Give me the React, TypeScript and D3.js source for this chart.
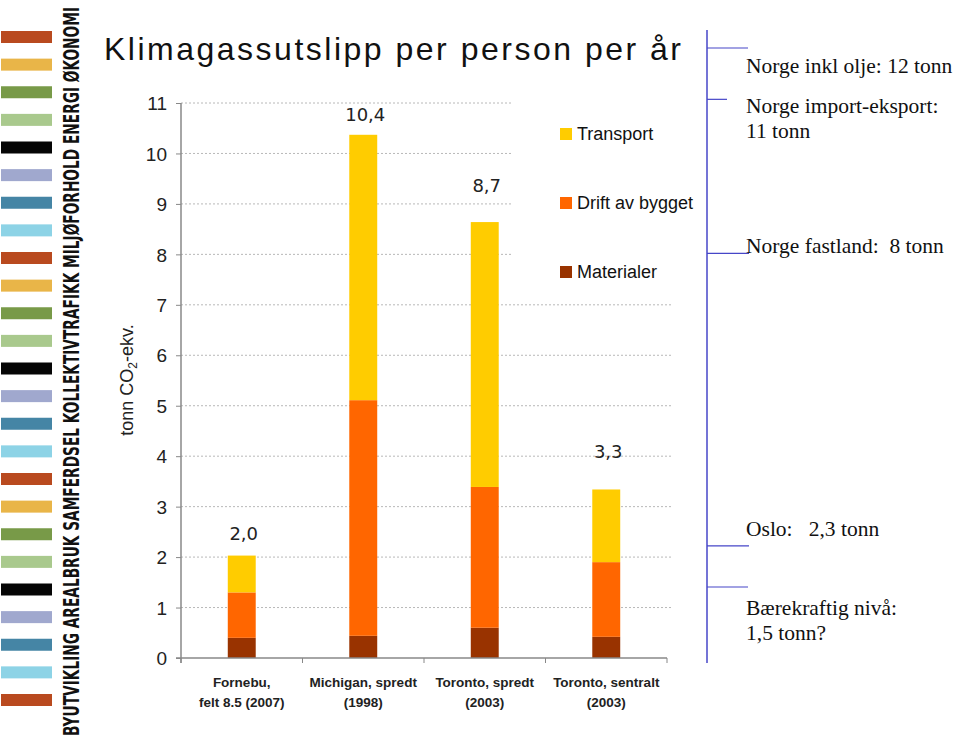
import { useEffect, useRef } from "react";
import * as d3 from "d3";

// data (tonn CO2-ekv. per person)
const categories = ["fornebu", "michigan", "torontoSpredt", "torontoSentralt"];
const categoryLines = [
  ["Fornebu,", "felt 8.5 (2007)"],
  ["Michigan, spredt", "(1998)"],
  ["Toronto, spredt", "(2003)"],
  ["Toronto, sentralt", "(2003)"],
];
const materialer = [0.4, 0.44, 0.6, 0.42];
const drift = [0.9, 4.67, 2.79, 1.48];
const transport = [0.73, 5.26, 5.25, 1.44];
const totalLabels = ["2,0", "10,4", "8,7", "3,3"];
const labelLevels = [2.34, 10.64, 9.24, 3.96];
const yTicks = [0, 1, 2, 3, 4, 5, 6, 7, 8, 9, 10, 11];

const seriesKeys = ["Materialer", "Drift av bygget", "Transport"];
const seriesColors = ["#993300", "#FF6600", "#FFCC00"];
const legendOrder = ["Transport", "Drift av bygget", "Materialer"];

// right-hand reference levels
const refLevels = [12, 11, 8, 2.3, 1.5];
const refTexts = [
  ["Norge inkl olje: 12 tonn"],
  ["Norge import-eksport:", "11 tonn"],
  ["Norge fastland:  8 tonn"],
  ["Oslo:   2,3 tonn"],
  ["Bærekraftig nivå:", "1,5 tonn?"],
];
const refTickLen = [41, 20, 42, 42, 41];
const refTextDy = [25, 14, 0, -10, 28];

const stripeColors = ["#B94A1F", "#E9B548", "#789A48", "#A9C98D", "#050505", "#A0A8CE", "#4585A5", "#8DD3E6"];
const sideText = "BYUTVIKLING AREALBRUK SAMFERDSEL KOLLEKTIVTRAFIKK MILJØFORHOLD ENERGI ØKONOMI";

const W = 960, H = 740;
const plot = { left: 181, right: 667, top: 103, bottom: 658 };

export default function App() {
  const ref = useRef<SVGSVGElement>(null);

  useEffect(() => {
    document.body.style.margin = "0";
    const svg = d3.select(ref.current);
    svg.selectAll("*").remove();

    svg.append("rect").attr("width", W).attr("height", H).attr("fill", "#fff");

    // left decorative stripes
    const stripeY = d3.scaleLinear().domain([0, 24]).range([37, 700]);
    svg.append("g").selectAll("rect")
      .data(d3.range(25))
      .join("rect")
      .attr("x", 1)
      .attr("y", (i) => stripeY(i) - 6)
      .attr("width", 51)
      .attr("height", 12)
      .attr("fill", (i) => stripeColors[i % stripeColors.length]);

    svg.append("text")
      .attr("transform", "translate(79,736) rotate(-90)")
      .attr("font-family", "'DejaVu Sans Condensed', 'DejaVu Sans'")
      .attr("font-weight", "bold")
      .attr("font-size", 21)
      .attr("textLength", 729)
      .attr("lengthAdjust", "spacingAndGlyphs")
      .attr("fill", "#111")
      .text(sideText);

    // title
    svg.append("text")
      .attr("x", 104).attr("y", 60)
      .attr("font-family", "'Liberation Sans', Arial, sans-serif")
      .attr("font-size", 32)
      .attr("letter-spacing", 2.5)
      .attr("fill", "#111")
      .text("Klimagassutslipp per person per år");

    const x = d3.scaleBand<string>()
      .domain(categories)
      .range([plot.left, plot.right])
      .paddingInner(0.77)
      .paddingOuter(0.385);
    const y = d3.scaleLinear().domain([0, 11]).range([plot.bottom, plot.top]);

    // gridlines
    svg.append("g").selectAll("line")
      .data(yTicks.filter((t) => t > 0))
      .join("line")
      .attr("x1", plot.left).attr("x2", plot.right + 6)
      .attr("y1", (d) => y(d)).attr("y2", (d) => y(d))
      .attr("stroke", "#B8B8B8")
      .attr("stroke-dasharray", "2,2");

    // legend background covers upper gridlines
    svg.append("rect")
      .attr("x", 511).attr("y", 95).attr("width", 195).attr("height", 197)
      .attr("fill", "#fff");

    // stacked bars
    const table = categories.map((c, i) => ({
      cat: c,
      "Materialer": materialer[i],
      "Drift av bygget": drift[i],
      "Transport": transport[i],
    }));
    const stacked = d3.stack<any>().keys(seriesKeys)(table);
    svg.append("g").selectAll("g")
      .data(stacked)
      .join("g")
      .attr("fill", (_, i) => seriesColors[i])
      .selectAll("rect")
      .data((s) => s)
      .join("rect")
      .attr("x", (d) => x(d.data.cat)!)
      .attr("width", x.bandwidth())
      .attr("y", (d) => y(d[1]))
      .attr("height", (d) => y(d[0]) - y(d[1]));

    // total labels
    svg.append("g").selectAll("text")
      .data(categories)
      .join("text")
      .attr("x", (c) => x(c)! + x.bandwidth() / 2 + 2)
      .attr("y", (_, i) => y(labelLevels[i]))
      .attr("text-anchor", "middle")
      .attr("font-family", "Verdana, 'DejaVu Sans', sans-serif")
      .attr("font-size", 18)
      .attr("fill", "#222")
      .text((_, i) => totalLabels[i]);

    // y axis
    const yAxis = svg.append("g")
      .attr("transform", `translate(${plot.left},0)`)
      .call(d3.axisLeft(y).tickValues(yTicks).tickSize(5).tickPadding(9).tickFormat(d3.format("d")));
    yAxis.select(".domain").remove();
    yAxis.selectAll(".tick line").attr("stroke", "#888");
    yAxis.selectAll(".tick text")
      .attr("font-family", "'Liberation Sans', Arial, sans-serif")
      .attr("font-size", 19)
      .attr("fill", "#222")
      .attr("dy", "0.35em");
    svg.append("line")
      .attr("x1", plot.left).attr("x2", plot.left)
      .attr("y1", plot.top).attr("y2", plot.bottom + 5)
      .attr("stroke", "#888").attr("stroke-width", 1.5);

    // x axis with boundary ticks
    svg.append("line")
      .attr("x1", plot.left - 5).attr("x2", plot.right)
      .attr("y1", plot.bottom).attr("y2", plot.bottom)
      .attr("stroke", "#888").attr("stroke-width", 1.5);
    svg.append("g").selectAll("line")
      .data(d3.range(categories.length + 1))
      .join("line")
      .attr("x1", (i) => plot.left + i * x.step())
      .attr("x2", (i) => plot.left + i * x.step())
      .attr("y1", plot.bottom).attr("y2", plot.bottom + 5)
      .attr("stroke", "#888");

    const xl = svg.append("g").selectAll("text")
      .data(categories)
      .join("text")
      .attr("x", (c) => x(c)! + x.bandwidth() / 2)
      .attr("y", plot.bottom + 29)
      .attr("text-anchor", "middle")
      .attr("font-family", "'Liberation Sans', Arial, sans-serif")
      .attr("font-size", 13.5)
      .attr("font-weight", "bold")
      .attr("fill", "#222");
    xl.selectAll("tspan")
      .data((_, i) => categoryLines[i])
      .join("tspan")
      .attr("x", function () { return (this.parentNode as SVGTextElement).getAttribute("x"); })
      .attr("dy", (_, j) => (j === 0 ? 0 : 20))
      .text((d) => d);

    // y label
    const yl = svg.append("text")
      .attr("transform", "translate(133,380) rotate(-90)")
      .attr("text-anchor", "middle")
      .attr("font-family", "'Liberation Sans', Arial, sans-serif")
      .attr("font-size", 18)
      .attr("fill", "#222");
    yl.append("tspan").text("tonn CO");
    yl.append("tspan").attr("font-size", 12).attr("dy", 4).text("2");
    yl.append("tspan").attr("dy", -4).text("-ekv.");

    // legend
    const lg = svg.append("g").selectAll("g")
      .data(legendOrder)
      .join("g")
      .attr("transform", (_, i) => `translate(560,${128 + i * 69})`);
    lg.append("rect")
      .attr("width", 12).attr("height", 12)
      .attr("fill", (d) => seriesColors[seriesKeys.indexOf(d)]);
    lg.append("text")
      .attr("x", 17).attr("y", 12)
      .attr("font-family", "'Liberation Sans', Arial, sans-serif")
      .attr("font-size", 18)
      .attr("fill", "#111")
      .text((d) => d);

    // right reference levels
    const r = d3.scaleLinear().domain([1.5, 12]).range([587, 48]);
    const blue = "#4646C8";
    svg.append("line")
      .attr("x1", 707).attr("x2", 707).attr("y1", 30).attr("y2", 663)
      .attr("stroke", blue).attr("stroke-width", 1.5);
    svg.append("g").selectAll("line")
      .data(refLevels)
      .join("line")
      .attr("x1", 707).attr("x2", (_, i) => 707 + refTickLen[i])
      .attr("y1", (d) => r(d)).attr("y2", (d) => r(d))
      .attr("stroke", blue).attr("stroke-width", 1.2);
    const rt = svg.append("g").selectAll("text")
      .data(refLevels)
      .join("text")
      .attr("x", 746)
      .attr("y", (d, i) => r(d) + refTextDy[i])
      .attr("font-family", "'Liberation Serif', 'Times New Roman', serif")
      .attr("font-size", 21.5)
      .attr("fill", "#111")
      .attr("xml:space", "preserve");
    rt.selectAll("tspan")
      .data((_, i) => refTexts[i])
      .join("tspan")
      .attr("x", 746)
      .attr("dy", (_, j) => (j === 0 ? 0 : 25))
      .style("white-space", "pre")
      .text((d) => d);
  }, []);

  return <svg ref={ref} width={W} height={H} style={{ display: "block" }} />;
}
